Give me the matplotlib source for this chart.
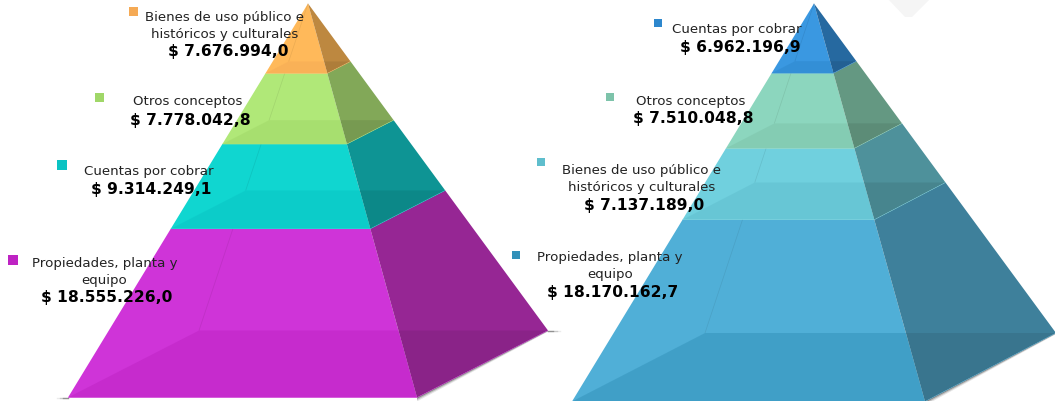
import numpy as np
import matplotlib
matplotlib.use('Agg')
import matplotlib.pyplot as plt
from matplotlib.patches import Polygon, Rectangle

# pyramid on the left
names_left = ['Bienes de uso público e\nhistóricos y culturales', 'Otros conceptos',
              'Cuentas por cobrar', 'Propiedades, planta y\nequipo']
values_left = [7676994.0, 7778042.8, 9314249.1, 18555226.0]

# pyramid on the right
names_right = ['Cuentas por cobrar', 'Otros conceptos',
               'Bienes de uso público e\nhistóricos y culturales', 'Propiedades, planta y\nequipo']
values_right = [6962196.9, 7510048.8, 7137189.0, 18170162.7]

# front colour, side colour, legend square colour
colors_left = [('#ffb95a', '#bd8840', '#f5aa55'),
               ('#b0e878', '#82a858', '#a0d768'),
               ('#10d6d0', '#0e9494', '#0ac3c3'),
               ('#cf34d8', '#962694', '#be23c3')]
colors_right = [('#3a98e1', '#2669a0', '#2d87cd'),
                ('#8cd6be', '#649882', '#7dc3aa'),
                ('#70d0de', '#4e919b', '#5fbecd'),
                ('#50afd7', '#3e809b', '#3291b9')]

# label layout: name x, first line y, value x, value y, square x, square y, square size
layout_left = [(224.5, 18, 228, 51.5, 133, 12, 9),
               (187.5, 102, 190, 120, 99, 98, 9),
               (148.5, 172, 151, 189.5, 62, 166, 10),
               (104.5, 264, 107, 297.5, 13, 261, 10)]
layout_right = [(737, 30, 740, 47.5, 657.5, 23.5, 8),
                (691, 101, 693, 118.5, 610, 98, 8),
                (641.5, 171, 644, 205.5, 541, 163, 8),
                (610, 258, 613, 292.5, 516, 256, 8)]


def money(v):
    s = f'{v:,.1f}'.replace(',', '#').replace('.', ',').replace('#', '.')
    return '$ ' + s


def draw_pyramid(ax, names, values, colors, layout, apex, fl, fr, br, bl):
    apex, fl, fr, br, bl = [np.array(p, dtype=float) for p in (apex, fl, fr, br, bl)]
    cum = np.cumsum(values) / np.sum(values)
    starts = np.concatenate([[0], cum[:-1]])

    # bottom band first, the upper ones are painted over it
    for i in range(len(values) - 1, -1, -1):
        t0, t1 = starts[i], cum[i]
        front, side, square = colors[i]
        pt = lambda c, t: apex + (c - apex) * t

        # whole front and left part of the band
        ax.add_patch(Polygon([pt(fl, t0), pt(fr, t0), pt(fr, t1), pt(fl, t1)],
                             facecolor=front, edgecolor='none', zorder=2))
        # back left edge seen through the band, the part above the band's front top is hidden
        t_seen = (pt(fl, t0)[1] - apex[1]) / (bl[1] - apex[1])
        ax.plot(*zip(pt(bl, t_seen), pt(bl, t1)), color=side, lw=0.5, alpha=0.3,
                solid_capstyle='butt', zorder=2.1)
        # right side
        ax.add_patch(Polygon([pt(fr, t0), pt(br, t0), pt(br, t1), pt(fr, t1)],
                             facecolor=side, edgecolor='none', zorder=2.2))
        # floor of the band seen through the front and through the right side
        t_back = (pt(br, t1)[1] - apex[1]) / (fr[1] - apex[1])
        ax.add_patch(Polygon([pt(fl, t1), pt(fr, t1), pt(fr, t_back), pt(bl, t1)],
                             facecolor=square, alpha=0.5, edgecolor='none', zorder=2.3))
        ax.add_patch(Polygon([pt(fr, t1), pt(br, t1), pt(fr, t_back)],
                             facecolor='k', alpha=0.08, edgecolor='none', zorder=2.3))
        ax.plot(*zip(pt(fl, t1), pt(fr, t1), pt(br, t1)), color=front, lw=0.4, alpha=0.7,
                solid_capstyle='butt', zorder=2.4)

    # soft shadow along the floor
    for off, a in [(4.0, 0.10), (2.6, 0.18), (1.2, 0.30)]:
        ax.add_patch(Polygon([fr, br, br + (0, off * 0.3), fr + (0, off)], facecolor='k',
                             alpha=a, edgecolor='none', zorder=1))
    for k, a in enumerate([0.08, 0.14, 0.28]):
        ax.plot([br[0], br[0] + 12 - 3.5 * k], [br[1], br[1]], color='k', lw=1, alpha=a, zorder=1)
        ax.plot([fl[0] - 11 + 3 * k, fl[0]], [fl[1], fl[1]], color='k', lw=1, alpha=a, zorder=1)

    # labels
    for name, v, col, (nx, ny, vx, vy, sx, sy, ss) in zip(names, values, colors, layout):
        for j, line in enumerate(name.split('\n')):
            ax.text(nx, ny + j * 16.5, line, ha='center', va='center', fontsize=9.6,
                    color='#222222', family='DejaVu Sans', zorder=5)
        ax.text(vx, vy, money(v), ha='center', va='center', fontsize=11.2,
                fontweight='bold', color='black', family='DejaVu Sans', zorder=5)
        ax.add_patch(Rectangle((sx - ss / 2, sy - ss / 2), ss, ss, facecolor=col[2],
                               edgecolor='none', zorder=5))


fig = plt.figure(figsize=(10.55, 4.02), dpi=100)
ax = fig.add_axes([0, 0, 1, 1])
ax.set_xlim(0, 1055)
ax.set_ylim(402, 0)
ax.axis('off')

draw_pyramid(ax, names_left, values_left, colors_left, layout_left,
             (308, 4.5), (68, 398.5), (417, 398.5), (548, 331.5), (199, 331.5))
draw_pyramid(ax, names_right, values_right, colors_right, layout_right,
             (814, 4.5), (572, 402.5), (925, 402.5), (1056, 334), (705, 334))

# faint grey smudge top right
ax.add_patch(Polygon([(888, 0), (930, 0), (912, 18), (905, 18)], facecolor='#f5f5f5',
                     edgecolor='none', zorder=0))

fig.savefig('out.png', dpi=100)
